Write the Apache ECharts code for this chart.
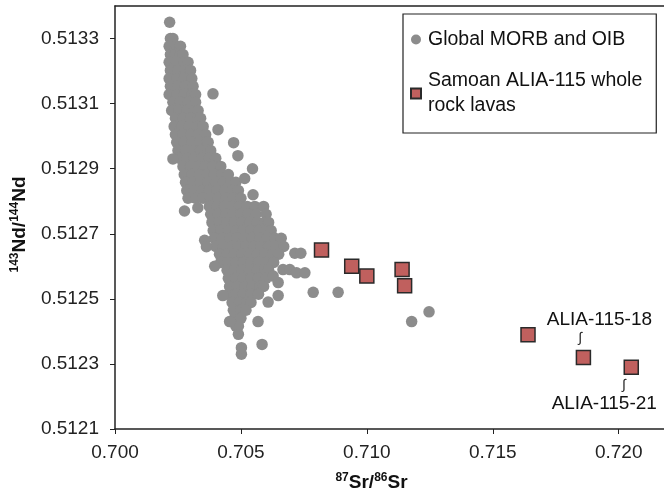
<!DOCTYPE html>
<html>
<head>
<meta charset="utf-8">
<script src="https://cdn.jsdelivr.net/npm/echarts@6/dist/echarts.min.js"></script>
<style>
html,body{margin:0;padding:0;background:#fff;}
#chart{width:664px;height:491px;}
</style>
</head>
<body>
<div id="chart"></div>
<script>
// Axis settings (values)
const xMin = 0.700, xMax = 0.7218, xStep = 0.005;
const yMin = 0.5121, yMax = 0.5134, yStep = 0.0002;

// Global MORB and OIB: rows of the dense cloud [143Nd/144Nd, [87Sr/86Sr ...]]
const morbRows = [
  [0.513300,[0.7022,0.7023]],
  [0.513276,[0.70215,0.70245,0.70260]],
  [0.513251,[0.7022,0.7024,0.7026,0.7027]],
  [0.513227,[0.70215,0.70245,0.70275,0.7029]],
  [0.513202,[0.7022,0.7025,0.7028,0.7030]],
  [0.513177,[0.70215,0.70245,0.70275,0.70305]],
  [0.513153,[0.7022,0.7025,0.7028,0.7031]],
  [0.513128,[0.70215,0.70245,0.70275,0.70305,0.7032]],
  [0.513104,[0.7023,0.7026,0.7029,0.7032]],
  [0.513079,[0.70225,0.70255,0.70285,0.70315,0.7033]],
  [0.513055,[0.7024,0.7027,0.7030,0.7033,0.7034]],
  [0.513030,[0.70235,0.70265,0.70295,0.70325,0.7035]],
  [0.513005,[0.7024,0.7027,0.7030,0.7033,0.7036]],
  [0.512981,[0.70245,0.70275,0.70305,0.70335,0.70365,0.7037]],
  [0.512956,[0.7025,0.7028,0.7031,0.7034,0.7037,0.7038]],
  [0.512932,[0.70255,0.70285,0.70315,0.70345,0.70375,0.7040]],
  [0.512907,[0.7027,0.7030,0.7033,0.7036,0.7039,0.7042]],
  [0.512882,[0.70275,0.70305,0.70335,0.70365,0.70395,0.70425,0.7045]],
  [0.512858,[0.7028,0.7031,0.7034,0.7037,0.7040,0.7043,0.7046,0.7048]],
  [0.512833,[0.70285,0.70315,0.70345,0.70375,0.70405,0.70435,0.70465,0.7049]],
  [0.512809,[0.7029,0.7032,0.7035,0.7038,0.7041,0.7044,0.7047,0.7050]],
  [0.512784,[0.70375,0.70405,0.70435,0.70465,0.70495,0.70525,0.70555,0.7059]],
  [0.512760,[0.7038,0.7041,0.7044,0.7047,0.7050,0.7053,0.7056,0.7060]],
  [0.512735,[0.70385,0.70415,0.70445,0.70475,0.70505,0.70535,0.70565,0.70595,0.7061]],
  [0.512710,[0.7039,0.7042,0.7045,0.7048,0.7051,0.7054,0.7057,0.7060,0.7062]],
  [0.512686,[0.70395,0.70425,0.70455,0.70485,0.70515,0.70545,0.70575,0.70605,0.70635,0.7066]],
  [0.512661,[0.7040,0.7043,0.7046,0.7049,0.7052,0.7055,0.7058,0.7061,0.7064,0.7067]],
  [0.512637,[0.70415,0.70445,0.70475,0.70505,0.70535,0.70565,0.70595,0.70625,0.7065]],
  [0.512612,[0.7042,0.7045,0.7048,0.7051,0.7054,0.7057,0.7060,0.7063]],
  [0.512588,[0.70445,0.70475,0.70505,0.70535,0.70565,0.70595,0.7061]],
  [0.512563,[0.7045,0.7048,0.7051,0.7054,0.7057,0.7060]],
  [0.512538,[0.70455,0.70485,0.70515,0.70545,0.70575,0.7059]],
  [0.512514,[0.7045,0.7048,0.7051,0.7054,0.7057]],
  [0.512489,[0.70465,0.70495,0.70525,0.7054]],
  [0.512465,[0.7047,0.7050,0.7052]],
  [0.512440,[0.70475,0.70500]],
  [0.512416,[0.7048,0.7049]],
  [0.512391,[0.7049]]
];

// Global MORB and OIB: scattered points around the cloud [87Sr/86Sr, 143Nd/144Nd]
const morbScattered = [
  [0.70217,0.51335],[0.70389,0.51313],[0.70409,0.51302],[0.70471,0.51298],
  [0.70488,0.51294],[0.70546,0.51290],[0.70515,0.51287],[0.70548,0.51282],
  [0.70276,0.51277],[0.70329,0.51278],[0.70230,0.51293],[0.70356,0.51268],
  [0.70363,0.51266],[0.70396,0.51260],[0.70628,0.51257],[0.70648,0.51255],
  [0.70648,0.51251],[0.70608,0.51249],[0.70568,0.51243],[0.70584,0.51236],
  [0.70502,0.51233],[0.70502,0.51235],[0.70787,0.51252],[0.70886,0.51252],
  [0.71178,0.51243],[0.71247,0.51246],[0.70714,0.51264],[0.70738,0.51264],
  [0.70667,0.51259],[0.70694,0.51259],[0.70721,0.51258],[0.70754,0.51258],
  [0.70428,0.51251],[0.70455,0.51243]
];

// Samoan ALIA-115 whole rock lavas
const samoaSr = [0.7082, 0.7094, 0.7100, 0.7114, 0.7115, 0.7164, 0.7186, 0.7205];
const samoaNd = [0.51265, 0.51260, 0.51257, 0.51259, 0.51254, 0.51239, 0.51232, 0.51229];
const samoaLabels = ['', '', '', '', '', '', 'ALIA-115-18', 'ALIA-115-21'];

const seriesNames = ['Global MORB and OIB', 'Samoan ALIA-115 whole rock lavas'];

const morbData = [];
morbRows.forEach(function (r) { r[1].forEach(function (x) { morbData.push([x, r[0]]); }); });
morbScattered.forEach(function (p) { morbData.push(p); });

const FONT = 'Liberation Sans';
const labelRich = {
  t: {fontFamily: FONT, fontSize: 19, color: '#111', lineHeight: 22},
  sA: {fontFamily: FONT + ', DejaVu Sans', fontSize: 14, color: '#222', lineHeight: 16, padding: [0, 38, 0, 0]},
  sB: {fontFamily: FONT + ', DejaVu Sans', fontSize: 14, color: '#222', lineHeight: 16, padding: [0, 0, 0, 40]}
};
const labelSpecs = {
  6: {offset: [16, -30], text: '{t|ALIA-115-18}\n{sA|\u222B}'},
  7: {offset: [-27, 29], text: '{sB|\u222B}\n{t|ALIA-115-21}'}
};
const samoaData = samoaSr.map(function (x, i) {
  const item = {value: [x, samoaNd[i]], name: samoaLabels[i]};
  if (labelSpecs[i]) {
    item.label = {show: true, position: 'inside', offset: labelSpecs[i].offset,
      formatter: labelSpecs[i].text, rich: labelRich};
  }
  return item;
});

const chart = echarts.init(document.getElementById('chart'));
chart.setOption({
  animation: false,
  backgroundColor: '#fff',
  grid: {left: 115, right: 0, top: 6, bottom: 62, outerBoundsMode: 'none', containLabel: false},
  legend: {
    orient: 'vertical',
    left: 403, top: 14,
    padding: [13, 14, 2, 7],
    itemGap: 4,
    itemWidth: 14, itemHeight: 10,
    borderColor: '#222', borderWidth: 1.2,
    selectedMode: false,
    textStyle: {fontFamily: FONT, fontSize: 19.5, color: '#111', lineHeight: 25},
    formatter: function (n) { return n === seriesNames[1] ? 'Samoan ALIA-115 whole\nrock lavas' : n; },
    data: [
      {name: seriesNames[0], icon: 'circle'},
      {name: seriesNames[1], icon: 'path://M0,0H10V10H0Z', textStyle: {padding: [25, 0, 0, 0]}}
    ]
  },
  xAxis: [{
    type: 'value', min: xMin, max: xMax, interval: xStep,
    name: '{sup|87}{b|Sr/}{sup|86}{b|Sr}',
    nameLocation: 'middle', nameGap: 43,
    nameTextStyle: {padding: [0, 36, 0, 0], rich: {
      b: {fontFamily: FONT, fontSize: 19, fontWeight: 'bold', color: '#111', lineHeight: 22},
      sup: {fontFamily: FONT, fontSize: 12, fontWeight: 'bold', color: '#111', lineHeight: 14, verticalAlign: 'top'}
    }},
    axisLine: {show: true, onZero: false, lineStyle: {color: '#222', width: 1.5}},
    axisTick: {show: true, length: 5, lineStyle: {color: '#222', width: 1}},
    axisLabel: {fontFamily: FONT, fontSize: 19, color: '#222', margin: 14, showMaxLabel: false,
      formatter: function (v) { return v.toFixed(3); }},
    splitLine: {show: false}
  }, {
    type: 'value', position: 'top', min: xMin, max: xMax,
    axisLine: {show: true, onZero: false, lineStyle: {color: '#222', width: 1.5}},
    axisTick: {show: false}, axisLabel: {show: false}, splitLine: {show: false}
  }],
  yAxis: {
    type: 'value', min: yMin, max: yMax, interval: yStep,
    name: '{sup|143}{b|Nd/}{sup|144}{b|Nd}',
    nameLocation: 'middle', nameRotate: 90, nameGap: 84,
    nameTextStyle: {padding: [0, 14, 0, 0], rich: {
      b: {fontFamily: FONT, fontSize: 19, fontWeight: 'bold', color: '#111', lineHeight: 22},
      sup: {fontFamily: FONT, fontSize: 12, fontWeight: 'bold', color: '#111', lineHeight: 14, verticalAlign: 'top'}
    }},
    axisLine: {show: true, onZero: false, lineStyle: {color: '#222', width: 1.5}},
    axisTick: {show: true, length: 5, lineStyle: {color: '#222', width: 1}},
    axisLabel: {fontFamily: FONT, fontSize: 19, color: '#222', margin: 16, showMaxLabel: false,
      formatter: function (v) { return v.toFixed(4); }},
    splitLine: {show: false}
  },
  series: [{
    name: seriesNames[0], type: 'scatter', symbol: 'circle', symbolSize: 11.5,
    itemStyle: {color: '#8c8c8c', opacity: 1},
    emphasis: {disabled: true},
    data: morbData, z: 2
  }, {
    name: seriesNames[1], type: 'scatter', symbol: 'rect', symbolSize: 14,
    itemStyle: {color: '#c0605e', borderColor: '#2a2a2a', borderWidth: 1.5, opacity: 1},
    emphasis: {disabled: true},
    data: samoaData, z: 3
  }]
});
</script>
</body>
</html>
